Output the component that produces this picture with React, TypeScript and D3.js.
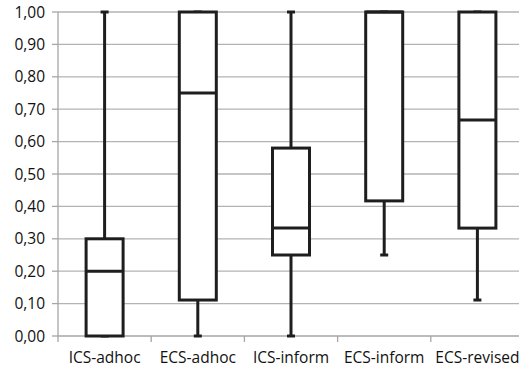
import React from "react";
import * as d3 from "d3";

const categories = ["ICS-adhoc", "ECS-adhoc", "ICS-inform", "ECS-inform", "ECS-revised"];
const mins = [0, 0, 0, 0.25, 0.111];
const q1s = [0, 0.111, 0.25, 0.417, 0.333];
const medians = [0.2, 0.75, 0.333, 1.0, 0.667];
const q3s = [0.3, 1.0, 0.58, 1.0, 1.0];
const maxs = [1.0, 1.0, 1.0, 1.0, 1.0];
const yTicks = [0, 0.1, 0.2, 0.3, 0.4, 0.5, 0.6, 0.7, 0.8, 0.9, 1.0];

export default function App() {
  const W = 519, H = 370;
  const left = 58, right = 524, top = 12, bottom = 336;
  const x = d3.scaleBand<string>().domain(categories).range([left, right]).paddingInner(0).paddingOuter(0);
  const y = d3.scaleLinear().domain([0, 1]).range([bottom, top]);
  const bw = x.bandwidth();
  const boxW = 37;
  const capW = 8;
  const fmt = (v: number) => v.toFixed(2).replace(".", ",");
  const stroke = "#1e1e1e";
  return (
    <svg width={W} height={H} style={{ position: "absolute", left: 0, top: 0, background: "#fff" }}>
      {yTicks.map((t) => (
        <g key={t}>
          {t > 0 && <line x1={left} x2={W} y1={y(t)} y2={y(t)} stroke="#b3b3b3" strokeWidth={1.3} />}
          <line x1={left - 6} x2={left} y1={y(t)} y2={y(t)} stroke="#a6a6a6" strokeWidth={1.3} />
          <text x={45} y={y(t)} dy="0.36em" textAnchor="end" fontFamily="'Open Sans', sans-serif" fontSize={15.5} fill="#111">
            {fmt(t)}
          </text>
        </g>
      ))}
      <line x1={left} x2={left} y1={top} y2={bottom} stroke="#a6a6a6" strokeWidth={1.3} />
      <line x1={left} x2={W} y1={bottom} y2={bottom} stroke="#a6a6a6" strokeWidth={1.3} />
      {categories.map((c, i) => (
        <line key={"t" + i} x1={x(c)!} x2={x(c)!} y1={bottom} y2={bottom + 6} stroke="#a6a6a6" strokeWidth={1.3} />
      ))}
      {categories.map((c, i) => {
        const cx = x(c)! + bw / 2;
        return (
          <g key={c} stroke={stroke} strokeWidth={3} fill="none">
            <line x1={cx} x2={cx} y1={y(maxs[i])} y2={y(q3s[i])} />
            <line x1={cx} x2={cx} y1={y(q1s[i])} y2={y(mins[i])} />
            <line x1={cx - capW / 2} x2={cx + capW / 2} y1={y(maxs[i])} y2={y(maxs[i])} />
            <line x1={cx - capW / 2} x2={cx + capW / 2} y1={y(mins[i])} y2={y(mins[i])} />
            <rect x={cx - boxW / 2} y={y(q3s[i])} width={boxW} height={y(q1s[i]) - y(q3s[i])} fill="#fff" />
            <line x1={cx - boxW / 2} x2={cx + boxW / 2} y1={y(medians[i])} y2={y(medians[i])} />
          </g>
        );
      })}
      {categories.map((c) => (
        <text key={"l" + c} x={x(c)! + bw / 2} y={363} textAnchor="middle" fontFamily="'Open Sans', sans-serif" fontSize={15.5} fill="#111">
          {c}
        </text>
      ))}
    </svg>
  );
}
